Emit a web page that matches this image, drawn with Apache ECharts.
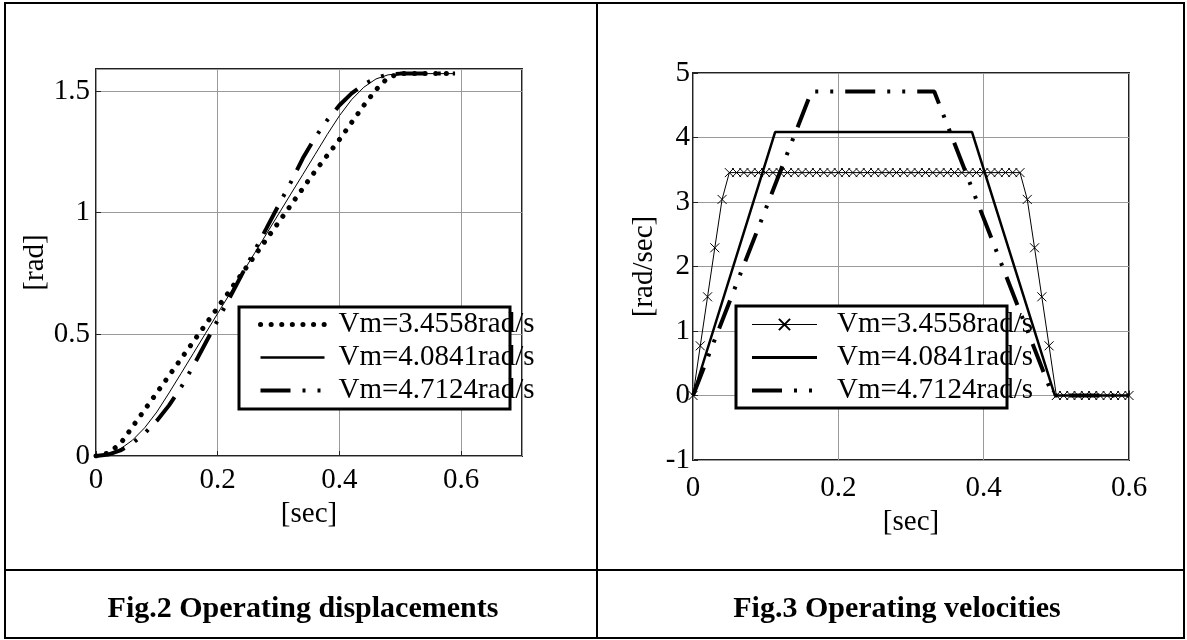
<!DOCTYPE html>
<html>
<head>
<meta charset="utf-8">
<script src="https://cdn.jsdelivr.net/npm/echarts@6/dist/echarts.min.js"></script>
<style>
  html, body { margin: 0; padding: 0; background: #fff; }
  #c1, #c2 { position: absolute; left: 0; top: 0; width: 1187px; height: 640px; }
  #c2 { background: transparent; }
</style>
</head>
<body>
<div id="c1"></div>
<div id="c2"></div>
<script>
// ---------- data ----------
const seriesNames = ['Vm=3.4558rad/s', 'Vm=4.0841rad/s', 'Vm=4.7124rad/s'];

// Fig.2 displacements [rad] vs time [sec]
const tDisp = [0,0.02,0.04,0.06,0.08,0.10,0.12,0.14,0.16,0.18,0.20,0.22,0.24,0.26,0.28,0.30,0.32,0.34,0.36,0.38,0.40,0.42,0.44,0.46,0.48,0.50,0.52,0.54,0.56,0.58,0.59];
const dispVm1 = [0,0.012,0.05,0.12,0.19,0.26,0.33,0.40,0.47,0.54,0.61,0.68,0.75,0.82,0.89,0.96,1.03,1.10,1.17,1.235,1.30,1.37,1.44,1.505,1.555,1.571,1.571,1.571,1.571,1.571,1.571];
const dispVm2 = [0,0.007,0.029,0.065,0.116,0.181,0.259,0.34,0.422,0.504,0.586,0.667,0.749,0.831,0.912,0.994,1.076,1.157,1.239,1.321,1.398,1.464,1.515,1.549,1.566,1.571,1.571,1.571,1.571,1.571,1.571];
const dispVm3 = [0,0.006,0.023,0.052,0.093,0.145,0.208,0.283,0.37,0.464,0.558,0.652,0.747,0.841,0.935,1.03,1.124,1.224,1.308,1.38,1.441,1.49,1.527,1.553,1.568,1.571,1.571,1.571,1.571,1.571,1.571];

// Fig.3 velocities [rad/sec] vs time [sec]
const tVel1 = [0,0.01,0.02,0.03,0.04,0.05,0.06,0.07,0.08,0.09,0.10,0.11,0.12,0.13,0.14,0.15,0.16,0.17,0.18,0.19,0.20,0.21,0.22,0.23,0.24,0.25,0.26,0.27,0.28,0.29,0.30,0.31,0.32,0.33,0.34,0.35,0.36,0.37,0.38,0.39,0.40,0.41,0.42,0.43,0.44,0.45,0.46,0.47,0.48,0.49,0.50,0.51,0.52,0.53,0.54,0.55,0.56,0.57,0.58,0.59,0.60];
const vel1 = [0,0.77,1.53,2.29,3.04,
  3.4558,3.4558,3.4558,3.4558,3.4558,3.4558,3.4558,3.4558,3.4558,3.4558,
  3.4558,3.4558,3.4558,3.4558,3.4558,3.4558,3.4558,3.4558,3.4558,3.4558,
  3.4558,3.4558,3.4558,3.4558,3.4558,3.4558,3.4558,3.4558,3.4558,3.4558,
  3.4558,3.4558,3.4558,3.4558,3.4558,3.4558,3.4558,3.4558,3.4558,3.4558,3.4558,
  3.04,2.29,1.53,0.77,0,
  0,0,0,0,0,0,0,0,0,0];
const tVel2 = [0, 0.113, 0.384, 0.498, 0.60];
const vel2 = [0, 4.0841, 4.0841, 0, 0];
const tVel3 = [0, 0.163, 0.332, 0.495, 0.60];
const vel3 = [0, 4.7124, 4.7124, 0, 0];

// axis tick settings
const dispXTicks = { min: 0, max: 0.7, interval: 0.2 };
const dispYTicks = { min: 0, max: 1.59, interval: 0.5 };
const velXTicks = { min: 0, max: 0.6, interval: 0.2 };
const velYTicks = { min: -1, max: 5, interval: 1 };

// ---------- helpers ----------
const FONT = "'Liberation Serif','Times New Roman',serif";
function pairs(t, v) { return t.map((x, i) => [x, v[i]]); }
function axis(ticks, name, nameGap, margin, showMax) {
  return {
    type: 'value', min: ticks.min, max: ticks.max, interval: ticks.interval,
    axisLine: { show: false },
    axisTick: { show: true, inside: true, length: 5, lineStyle: { color: '#222' } },
    axisLabel: { fontFamily: FONT, fontSize: 29, color: '#000', margin: margin, showMaxLabel: showMax },
    splitLine: { show: true, lineStyle: { color: '#9a9a9a', width: 1 } },
    name: name, nameLocation: 'middle', nameGap: nameGap,
    nameTextStyle: { fontFamily: FONT, fontSize: 29, color: '#000' }
  };
}
const dashDot = [30, 12, 3, 12, 3, 12];
const dotted = [0.1, 10.5];
const noMarker = { color: 'transparent', borderColor: 'transparent', borderWidth: 0, opacity: 0 };

// ---------- Fig.2 ----------
const chart1 = echarts.init(document.getElementById('c1'), null, { renderer: 'canvas' });
chart1.setOption({
  animation: false,
  backgroundColor: '#fff',
  grid: { left: 96, top: 69, width: 426, height: 387, show: true, borderColor: '#222', borderWidth: 2, backgroundColor: 'transparent' },
  xAxis: axis(dispXTicks, '[sec]', 42, 10, false),
  yAxis: axis(dispYTicks, '[rad]', 33, 6, false),
  legend: {
    orient: 'vertical', left: 258, top: 310, padding: 0,
    itemWidth: 64, itemHeight: 14, itemGap: 4, selectedMode: false,
    textStyle: { fontFamily: FONT, fontSize: 29, color: '#000', lineHeight: 29, padding: [0, 0, 0, 9] },
    data: [
      { name: seriesNames[0], itemStyle: noMarker, lineStyle: { width: 5, type: dotted, cap: 'round', color: '#000' } },
      { name: seriesNames[1], itemStyle: noMarker, lineStyle: { width: 2.5, color: '#000' } },
      { name: seriesNames[2], itemStyle: noMarker, lineStyle: { width: 4, type: dashDot, color: '#000' } }
    ],
    z: 5
  },
  series: [
    { name: seriesNames[0], type: 'line', data: pairs(tDisp, dispVm1), showSymbol: false, symbol: 'none',
      lineStyle: { color: '#000', width: 5, type: dotted, cap: 'round' }, itemStyle: { color: '#000' } },
    { name: seriesNames[1], type: 'line', data: pairs(tDisp, dispVm2), showSymbol: false, symbol: 'none',
      lineStyle: { color: '#000', width: 1 }, itemStyle: { color: '#000' } },
    { name: seriesNames[2], type: 'line', data: pairs(tDisp, dispVm3), showSymbol: false, symbol: 'none',
      lineStyle: { color: '#000', width: 4, type: dashDot }, itemStyle: { color: '#000' } }
  ],
  graphic: [
    { type: 'rect', z: 3, shape: { x: 239, y: 307, width: 271, height: 102 }, style: { fill: '#fff' } },
    { type: 'rect', z: 10, shape: { x: 239, y: 307, width: 271, height: 102 }, style: { fill: 'none', stroke: '#000', lineWidth: 3 } },
    // table frame
    { type: 'rect', z: 10, shape: { x: 5, y: 3, width: 1179, height: 635 }, style: { fill: 'none', stroke: '#000', lineWidth: 2 } },
    { type: 'line', z: 10, shape: { x1: 597, y1: 3, x2: 597, y2: 638 }, style: { stroke: '#000', lineWidth: 2 } },
    { type: 'line', z: 10, shape: { x1: 5, y1: 570, x2: 1184, y2: 570 }, style: { stroke: '#000', lineWidth: 2 } },
    { type: 'text', z: 10, style: { text: 'Fig.2 Operating displacements', x: 303, y: 609, textAlign: 'center', textVerticalAlign: 'middle', font: "bold 30px 'Liberation Serif','Times New Roman',serif", fill: '#000' } },
    { type: 'text', z: 10, style: { text: 'Fig.3 Operating velocities', x: 897, y: 609, textAlign: 'center', textVerticalAlign: 'middle', font: "bold 30px 'Liberation Serif','Times New Roman',serif", fill: '#000' } }
  ]
});

// ---------- Fig.3 ----------
const chart2 = echarts.init(document.getElementById('c2'), null, { renderer: 'canvas' });
chart2.setOption({
  animation: false,
  backgroundColor: 'transparent',
  grid: { left: 693, top: 73, width: 436, height: 387, show: true, borderColor: '#222', borderWidth: 2, backgroundColor: 'transparent' },
  xAxis: axis(velXTicks, '[sec]', 48, 14, true),
  yAxis: axis(velYTicks, '[rad/sec]', 34, 3, true),
  legend: {
    orient: 'vertical', left: 750, top: 310, padding: 0,
    itemWidth: 65, itemHeight: 14, itemGap: 4, selectedMode: false,
    textStyle: { fontFamily: FONT, fontSize: 29, color: '#000', lineHeight: 29, padding: [0, 0, 0, 15] },
    data: [
      { name: seriesNames[0], lineStyle: { width: 1, color: '#000' } },
      { name: seriesNames[1], itemStyle: noMarker, lineStyle: { width: 3, color: '#000' } },
      { name: seriesNames[2], itemStyle: noMarker, lineStyle: { width: 4, type: dashDot, color: '#000' } }
    ],
    z: 5
  },
  series: [
    { name: seriesNames[0], type: 'line', data: pairs(tVel1, vel1), clip: false,
      symbol: 'path://M0,0L10,10M10,0L0,10', symbolSize: 9, showSymbol: true, showAllSymbol: true,
      lineStyle: { color: '#000', width: 1 }, itemStyle: { color: '#000', borderColor: '#000', borderWidth: 1 } },
    { name: seriesNames[1], type: 'line', data: pairs(tVel2, vel2), showSymbol: false, symbol: 'none',
      lineStyle: { color: '#000', width: 2.5 }, itemStyle: { color: '#000' } },
    { name: seriesNames[2], type: 'line', data: pairs(tVel3, vel3), showSymbol: false, symbol: 'none',
      lineStyle: { color: '#000', width: 4, type: dashDot }, itemStyle: { color: '#000' } }
  ],
  graphic: [
    { type: 'rect', z: 3, shape: { x: 736, y: 306, width: 271, height: 102 }, style: { fill: '#fff' } },
    { type: 'rect', z: 10, shape: { x: 736, y: 306, width: 271, height: 102 }, style: { fill: 'none', stroke: '#000', lineWidth: 3 } }
  ]
});
</script>
</body>
</html>
